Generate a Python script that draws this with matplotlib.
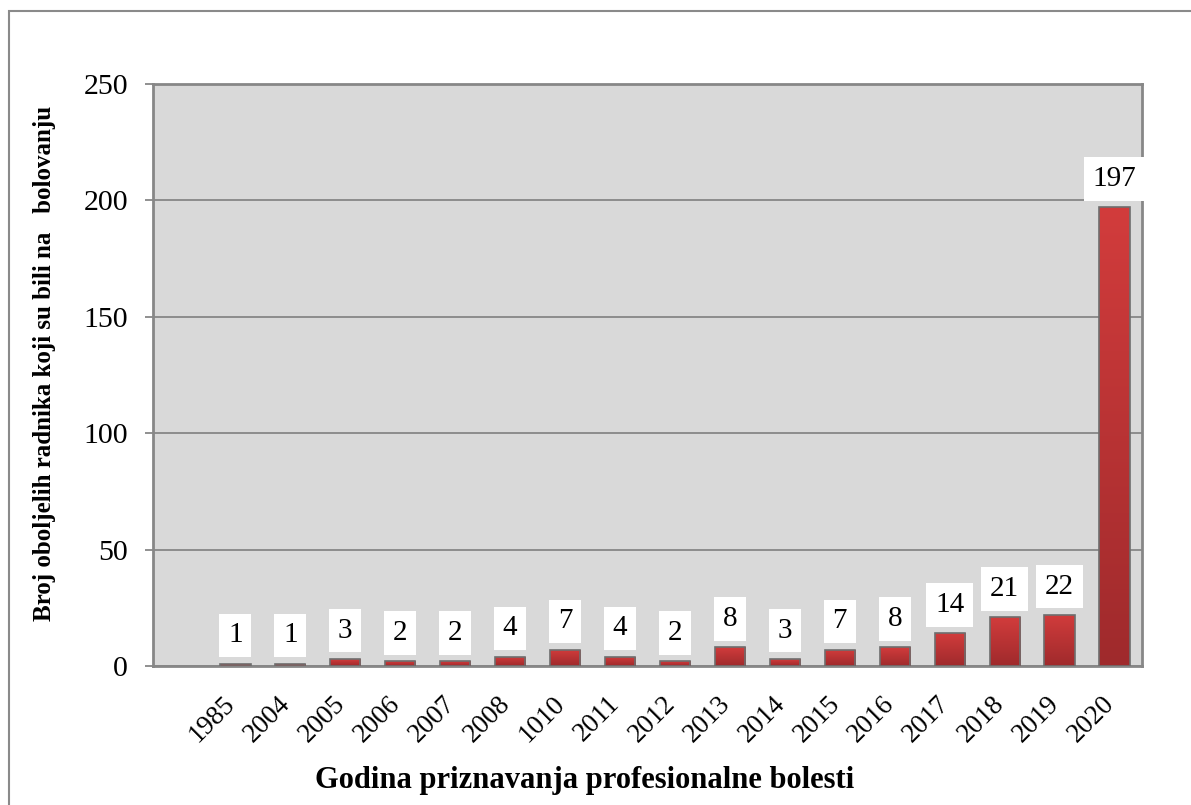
import numpy as np
import matplotlib

matplotlib.use("Agg")
import matplotlib.pyplot as plt
import matplotlib.transforms as mtransforms
from matplotlib.patches import Rectangle
from matplotlib.colors import LinearSegmentedColormap

plt.rcParams["font.family"] = ["Liberation Serif", "DejaVu Serif"]

# data (first category slot is empty in the original)
years = ["1985", "2004", "2005", "2006", "2007", "2008", "1010", "2011", "2012",
         "2013", "2014", "2015", "2016", "2017", "2018", "2019", "2020"]
counts = [1, 1, 3, 2, 2, 4, 7, 4, 2, 8, 3, 7, 8, 14, 21, 22, 197]

BG = "#D9D9D9"
EDGE = "#878787"
bar_cmap = LinearSegmentedColormap.from_list("bar", ["#D23C3C", "#9F2A2C"])

fig = plt.figure(figsize=(11.91, 8.05), dpi=100)
ax = fig.add_axes([153 / 1191, 1 - 666 / 805, 989 / 1191, 582 / 805])
ax.set_facecolor(BG)

# outer chart frame (left/top visible, rest runs off the picture)
fig.patches.append(Rectangle((9 / 1191, -0.5), 2, 1.5 - 11 / 805,
                             transform=fig.transFigure, fill=False,
                             edgecolor="#8a8a8a", lw=1.5, zorder=0))

x = np.arange(1, len(years) + 1)
bars = ax.bar(x, counts, width=0.55, color="#C03434", edgecolor="#6e6e6e",
              lw=1.2, zorder=3)

# vertical gradient inside each bar
grad = np.linspace(0, 1, 256).reshape(-1, 1)
for b in bars:
    x0, w, h = b.get_x(), b.get_width(), b.get_height()
    im = ax.imshow(grad, cmap=bar_cmap, aspect="auto", zorder=3.5,
                   extent=[x0, x0 + w, 0, h], origin="upper")
    im.set_clip_path(b)
    b.set_facecolor("none")
    b.set_zorder(4)

for xi, v in zip(x, counts):
    ax.annotate(str(v), (xi, v), xytext=(0, 11), textcoords="offset points",
                ha="center", va="bottom", fontsize=21, zorder=5,
                bbox=dict(boxstyle="square,pad=0.3", fc="white", ec="none"))

ax.set_xlim(-0.5, len(years) + 0.5)
ax.set_ylim(0, 250)
ax.set_yticks(np.arange(0, 251, 50))
ax.yaxis.grid(True, color="#8c8c8c", lw=1.4, zorder=1)
ax.set_axisbelow(True)

ax.set_xticks(x)
ax.set_xticklabels(years, rotation=45, ha="right", va="top", fontsize=19.5)
ax.tick_params(axis="x", length=0, pad=18)
ax.tick_params(axis="y", length=6, width=1.3, color=EDGE, labelsize=21.5, pad=12)

# nudge rotated year labels a bit to the right
shift = mtransforms.ScaledTranslation(5 / 100, 0, fig.dpi_scale_trans)
for lab in ax.get_xticklabels():
    lab.set_transform(lab.get_transform() + shift)

for s in ax.spines.values():
    s.set_color(EDGE)
    s.set_linewidth(2)

fig.text(45 / 1191, 1 - 363 / 805,
         "Broj oboljelih radnika koji su bili na   bolovanju",
         rotation=90, ha="center", va="center", fontsize=18, fontweight="bold")
fig.text(585 / 1191, 1 - 780 / 805, "Godina priznavanja profesionalne bolesti",
         ha="center", va="center", fontsize=22, fontweight="bold")

fig.savefig("out.png", dpi=100)
